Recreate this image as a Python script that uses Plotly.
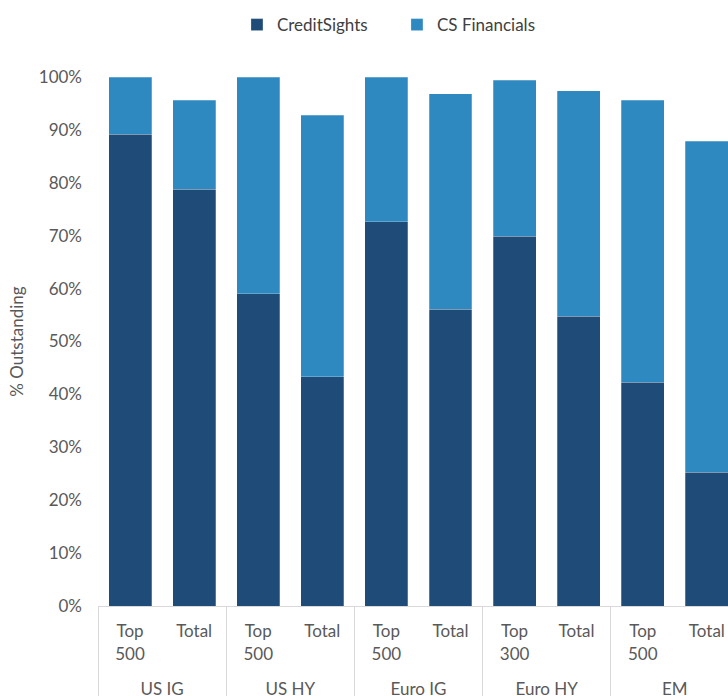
import plotly.graph_objects as go

groups = ["US IG", "US IG", "US HY", "US HY", "Euro IG", "Euro IG", "Euro HY", "Euro HY", "EM", "EM"]
# trailing space on Euro HY "Total " keeps plotly's multicategory order as in the source
subcats = ["Top<br>500", "Total", "Top<br>500", "Total", "Top<br>500", "Total", "Top<br>300", "Total ", "Top<br>500", "Total"]

creditsights = [0.892, 0.788, 0.590, 0.433, 0.726, 0.561, 0.699, 0.548, 0.423, 0.253]
totals = [1.000, 0.956, 1.000, 0.928, 1.000, 0.968, 0.994, 0.974, 0.956, 0.879]
cs_financials = [round(t - c, 3) for t, c in zip(totals, creditsights)]

dark = "#1F4B79"
light = "#2E89C0"
txt = "#595959"
FONT = "Lato"

# group labels pushed down one line, as in the source
group_labels = ["<br>" + g for g in groups]

fig = go.Figure()
fig.add_trace(go.Bar(x=[group_labels, subcats], y=creditsights, name="CreditSights",
                     marker=dict(color=dark, line=dict(color="rgba(255,255,255,0.5)", width=0.5))))
fig.add_trace(go.Bar(x=[group_labels, subcats], y=cs_financials, name="CS Financials",
                     marker=dict(color=light, line=dict(color="rgba(255,255,255,0.5)", width=0.5))))

fig.update_layout(
    barmode="stack",
    bargap=0.33,
    width=728, height=696,
    margin=dict(l=98, r=0, t=77, b=90, autoexpand=False),
    plot_bgcolor="white", paper_bgcolor="white",
    font=dict(family=FONT, size=17, color=txt),
    showlegend=True,
    legend=dict(orientation="h", xref="container", yref="container", x=0.3255, y=0.964,
                xanchor="left", yanchor="middle", font=dict(size=17, color="#404040"),
                itemwidth=30, entrywidth=115, entrywidthmode="pixels", traceorder="normal"),
)
fig.update_xaxes(type="multicategory", range=[-0.5, 9.33], showline=True, linecolor="#D9D9D9",
                 linewidth=1, showdividers=True, dividercolor="#D9D9D9", dividerwidth=1,
                 tickfont=dict(size=17, color=txt), ticks="", ticklabelstandoff=10)
fig.update_yaxes(range=[0, 1], dtick=0.1, tickformat=".0%", showgrid=False, showline=False,
                 zeroline=False, ticks="", tickfont=dict(size=17, color=txt), ticklabelstandoff=15,
                 title=dict(text="% Outstanding", font=dict(size=17, color=txt), standoff=10))

# draw the figure flush with the page corner, without scrollbars or modebar
fig.write_html("out.html", config={"displayModeBar": False},
               post_script="document.body.style.margin='0';document.body.style.overflow='hidden';")
